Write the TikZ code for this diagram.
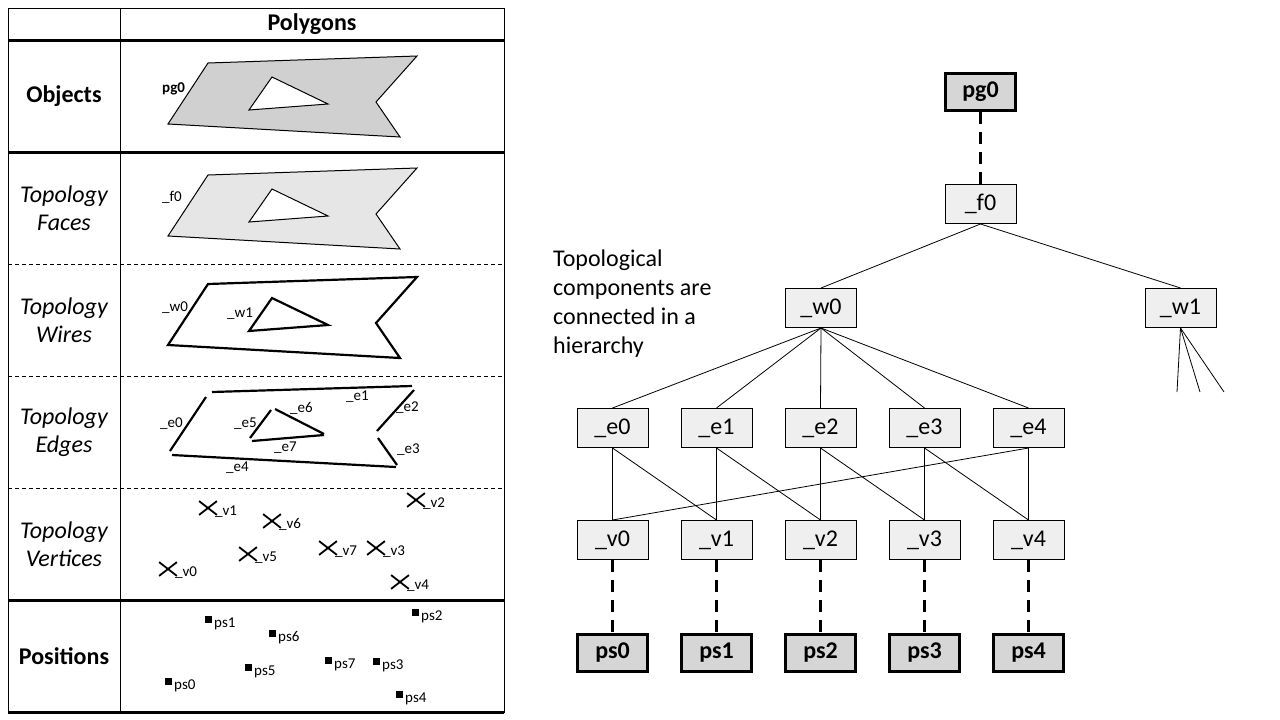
\documentclass[tikz,border=0pt]{standalone}
\usepackage{fontspec}
\setmainfont{Carlito}
\usetikzlibrary{shapes.misc}
\newcommand\fsz[2]{\fontsize{#1}{#2}\selectfont}
\definecolor{boxgray}{HTML}{EFEFEF}
\definecolor{objgray}{HTML}{D6D6D6}
\definecolor{polyobj}{HTML}{D0D0D0}
\definecolor{polyface}{HTML}{E6E6E6}
\tikzset{
  topo/.style={draw, fill=boxgray, line width=1pt, minimum width=71pt, minimum height=39pt, inner sep=0pt, font=\fsz{24}{29}},
  objbox/.style={draw, fill=objgray, line width=3pt, minimum width=70pt, minimum height=37pt, inner sep=0pt, font=\bfseries\fsz{24}{29}},
  link/.style={line width=0.8pt},
  dlink/.style={line width=3pt, dash pattern=on 12pt off 8pt},
  biglabel/.style={align=center, font=\fsz{24}{28}},
  small/.style={anchor=base west, inner sep=0pt, font=\fsz{15}{18}},
  xmark/.style={cross out, draw, line width=1.8pt, minimum width=16pt, minimum height=12pt, inner sep=0pt},
  sqmark/.style={fill=black, minimum size=7pt, inner sep=0pt},
  rowsep/.style={line width=0.8pt, dash pattern=on 4pt off 3pt},
  thickrule/.style={line width=3pt},
}
\begin{document}
\begin{tikzpicture}[x=1pt,y=-1pt]
\useasboundingbox (0,0) rectangle (1280,720);
% ---------- table ----------
\draw[line width=1pt] (8,8) rectangle (504,712);
\draw[line width=1pt] (120,8) -- (120,712);
\draw[thickrule] (8,40) -- (504,40);
\draw[thickrule] (8,152) -- (504,152);
\draw[thickrule] (8,600) -- (504,600);
\draw[thickrule] (8,712) -- (504,712);
\draw[rowsep] (8,264) -- (504,264);
\draw[rowsep] (8,376) -- (504,376);
\draw[rowsep] (8,488) -- (504,488);
\node[biglabel, font=\bfseries\fsz{24}{28}] (hdr) at (312,24) {Polygons};
\node[biglabel, font=\bfseries\fsz{24}{28}] (lobj) at (64,96) {Objects};
\node[biglabel, font=\itshape\fsz{24}{28}] (lfac) at (64,208) {Topology\\Faces};
\node[biglabel, font=\itshape\fsz{24}{28}] (lwir) at (64,320) {Topology\\Wires};
\node[biglabel, font=\itshape\fsz{24}{28}] (ledg) at (64,432) {Topology\\Edges};
\node[biglabel, font=\itshape\fsz{24}{28}] (lver) at (64,544) {Topology\\Vertices};
\node[biglabel, font=\bfseries\fsz{24}{28}] (lpos) at (64,656) {Positions};
% objects polygon
\fill[polyobj, even odd rule] (208,63) -- (417,56) -- (376,102) -- (400,137) -- (168,124) -- cycle
  (272,77) -- (328,104) -- (249,110) -- cycle;
\draw[line width=1pt] (208,63) -- (417,56) -- (376,102) -- (400,137) -- (168,124) -- cycle
  (272,77) -- (328,104) -- (249,110) -- cycle;
\node[small, font=\bfseries\fsz{15}{18}] (tpg) at (162,92) {pg0};
% faces polygon
\fill[polyface, even odd rule] (208,175) -- (417,168) -- (376,214) -- (400,249) -- (168,236) -- cycle
  (272,189) -- (328,216) -- (249,222) -- cycle;
\draw[line width=1pt] (208,175) -- (417,168) -- (376,214) -- (400,249) -- (168,236) -- cycle
  (272,189) -- (328,216) -- (249,222) -- cycle;
\node[small] (tf0) at (162,201) {\_f0};
% wires
\draw[line width=2.2pt, line join=miter] (208,284) -- (417,277) -- (376,323) -- (400,358) -- (168,345) -- cycle;
\draw[line width=2.2pt] (272,298) -- (328,325) -- (249,331) -- cycle;
\node[small] (tw0) at (162,311) {\_w0};
\node[small] (tw1) at (227,317) {\_w1};
% edges
\begin{scope}[line width=2.2pt]
\draw (212,392) -- (412,386);
\draw (414,390) -- (377,431);
\draw (378,438) -- (397,465);
\draw (172,455) -- (396,467);
\draw (206,397) -- (170,451);
\draw (271,410) -- (250,438);
\draw (275,409) -- (324,434);
\draw (252,441) -- (324,435);
\end{scope}
\node[small] (te0) at (160,427) {\_e0};
\node[small] (te1) at (346,400) {\_e1};
\node[small] (te2) at (396,411) {\_e2};
\node[small] (te3) at (397,453) {\_e3};
\node[small] (te4) at (226,471) {\_e4};
\node[small] (te5) at (234,427) {\_e5};
\node[small] (te6) at (290,412) {\_e6};
\node[small] (te7) at (274,451) {\_e7};
% vertices
\foreach \n/\x/\y in {0/168/569, 1/208/508, 2/416/500, 3/376/548, 4/400/582, 5/248/554, 6/272/521, 7/328/548}{
  \node[xmark] (xv\n) at (\x,\y) {};
  \node[small] (tv\n) at (\x+7,\y+7) {\_v\n};
}
% positions
\foreach \n/\x/\y in {0/168/681, 1/208/619, 2/415/612, 3/376/661, 4/399/694, 5/248/667, 6/272/633, 7/328/660}{
  \node[sqmark] (sq\n) at (\x,\y) {};
  \node[small] (tps\n) at (\x+6,\y+8) {ps\n};
}
% ---------- hierarchy ----------
\node[anchor=north west, align=left, inner sep=0pt, font=\fsz{24}{29}] (note) at (553,250)
  {Topological\\components are\\connected in a\\hierarchy};
\node[objbox] (pg0) at (980.5,92) {pg0};
\node[topo] (f0) at (980.5,204) {\_f0};
\node[topo] (w0) at (821,308) {\_w0};
\node[topo] (w1) at (1180.5,308) {\_w1};
\foreach \i/\x in {0/612.5,1/716.5,2/820.5,3/924.5,4/1028.5}{
  \node[topo] (e\i) at (\x,428) {\_e\i};
  \node[topo] (v\i) at (\x,540) {\_v\i};
  \node[objbox] (ps\i) at (\x,652.5) {ps\i};
  \draw[link] (w0.south) -- (e\i.north);
  \draw[dlink] (v\i.south) -- (ps\i.north);
}
\draw[dlink] (pg0.south) -- (f0.north);
\draw[link] (f0.south) -- (w0.north);
\draw[link] (f0.south) -- (w1.north);
\coordinate (wa) at (1177,392);
\coordinate (wb) at (1200,392);
\coordinate (wc) at (1224,392);
\draw[link] (w1.south) -- (wa);
\draw[link] (w1.south) -- (wb);
\draw[link] (w1.south) -- (wc);
\draw[link] (e0.south) -- (v0.north);
\draw[link] (e0.south) -- (v1.north);
\draw[link] (e1.south) -- (v1.north);
\draw[link] (e1.south) -- (v2.north);
\draw[link] (e2.south) -- (v2.north);
\draw[link] (e2.south) -- (v3.north);
\draw[link] (e3.south) -- (v3.north);
\draw[link] (e3.south) -- (v4.north);
\draw[link] (e4.south) -- (v4.north);
\draw[link] (e4.south) -- (v0.north);
\end{tikzpicture}
\end{document}
